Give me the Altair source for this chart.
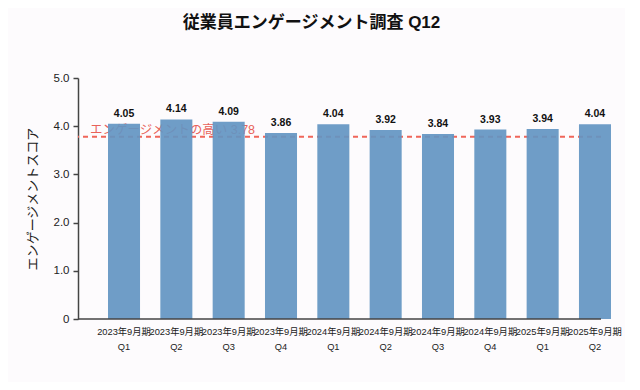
import altair as alt
import pandas as pd

periods = ["2023年9月期", "2023年9月期", "2023年9月期", "2023年9月期", "2024年9月期",
           "2024年9月期", "2024年9月期", "2024年9月期", "2025年9月期", "2025年9月期"]
quarters = ["Q1", "Q2", "Q3", "Q4", "Q1", "Q2", "Q3", "Q4", "Q1", "Q2"]
scores = [4.05, 4.14, 4.09, 3.86, 4.04, 3.92, 3.84, 3.93, 3.94, 4.04]
benchmark_value = 3.78
benchmark_label = "エンゲージメントの高い 3.78"
y_ticks = [0, 1, 2, 3, 4, 5]

df = pd.DataFrame({
    "label": [f"{p}\n{q}" for p, q in zip(periods, quarters)],
    "score": scores,
})
order = list(df["label"])
bench = pd.DataFrame({"v": [benchmark_value], "t": [benchmark_label]})

FONT = "Liberation Sans, Noto Sans CJK JP, sans-serif"

x_enc = alt.X(
    "label:N", sort=order, title=None,
    scale=alt.Scale(range=[30, 533], paddingInner=0.388, paddingOuter=0),
    axis=alt.Axis(labelExpr="split(datum.label, '\\n')", labelAngle=0, ticks=False,
                  domain=False, labelOverlap=False, labelBound=False,
                  labelFontSize=9.3, labelColor="#222", labelPadding=8,
                  labelLineHeight=15, labelFont=FONT),
)
y_scale = alt.Scale(domain=[0, 5], nice=False)

bars = alt.Chart(df).mark_bar(color="#6395c2", opacity=0.92).encode(
    x=x_enc,
    y=alt.Y("score:Q", scale=y_scale, title="エンゲージメントスコア",
            axis=alt.Axis(values=y_ticks, grid=False,
                          labelExpr="datum.value == 0 ? '0' : format(datum.value, '.1f')",
                          labelFontSize=11.5, labelColor="#222", labelFont=FONT,
                          domainColor="#444", domainWidth=1.5, tickColor="#444",
                          tickWidth=1.5, tickSize=5, labelPadding=4,
                          titleFontSize=13, titleFontWeight="normal", titleColor="#222",
                          titlePadding=14, titleFont=FONT)),
)

labels = alt.Chart(df).mark_text(fontSize=10.5, fontWeight="bold", dy=-10,
                                 color="#111", font=FONT).encode(
    x=alt.X("label:N", sort=order),
    y=alt.Y("score:Q", scale=y_scale),
    text=alt.Text("score:Q", format=".2f"),
)

rule = alt.Chart(bench).mark_rule(color="#f0665a", strokeDash=[5, 4], strokeWidth=2).encode(
    y=alt.Y("v:Q", scale=y_scale),
)
bench_text = alt.Chart(bench).mark_text(align="left", baseline="middle", dy=-7,
                                        fontSize=12.5, color="#e8625a", font=FONT).encode(
    x=alt.value(12),
    y=alt.Y("v:Q", scale=y_scale),
    text="t:N",
)
x_line = alt.Chart(bench).mark_rule(color="#444", strokeWidth=1.5).encode(
    y=alt.Y("zero:Q", scale=y_scale),
).transform_calculate(zero="0")

chart = alt.layer(rule, bench_text, bars, labels, x_line).properties(
    width=523, height=241,
    title=alt.TitleParams("従業員エンゲージメント調査 Q12", fontSize=17, fontWeight="bold",
                          color="#111", font=FONT, anchor="middle", dx=-28, offset=40),
    autosize=alt.AutoSizeParams(type="none"),
    padding={"left": 70, "top": 70, "right": 24, "bottom": 63},
    background="#fdfbfd",
).configure_view(stroke=None)

chart.save("out.html", embed_options={"renderer": "svg", "actions": False})
